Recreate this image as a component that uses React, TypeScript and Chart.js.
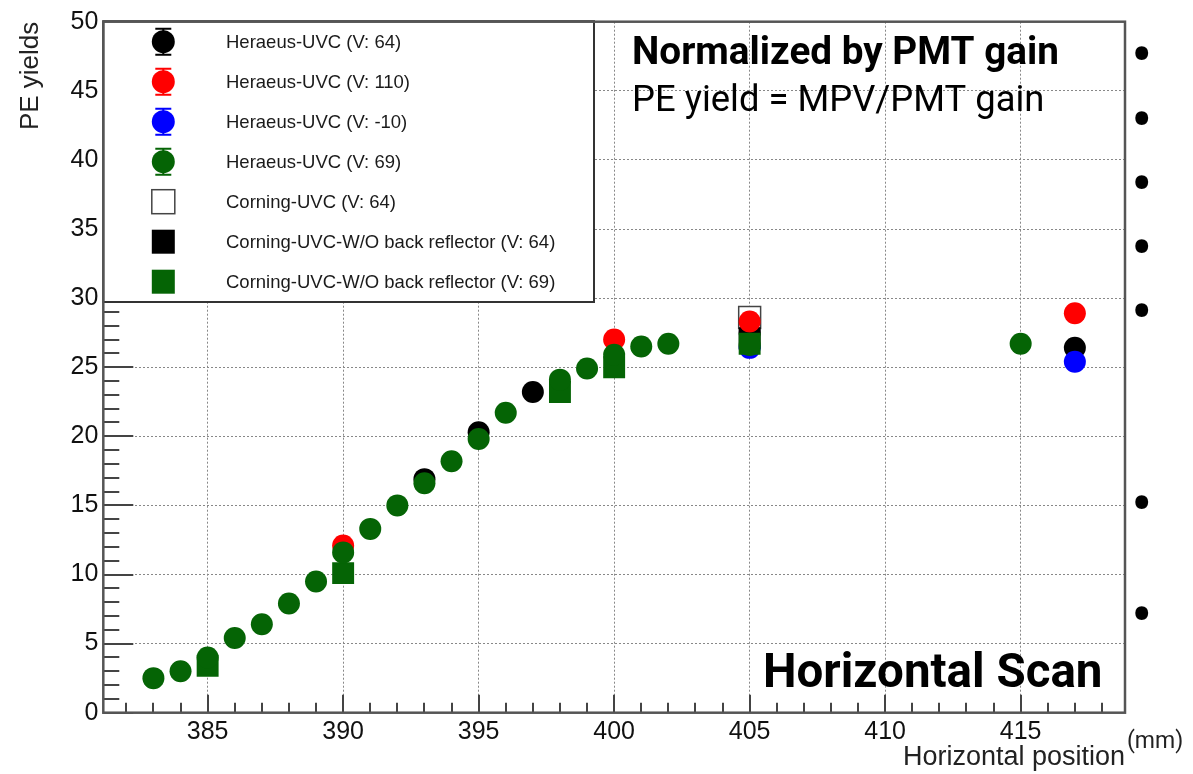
import React, { useEffect, useRef } from "react";
import { Chart, registerables } from "chart.js";

Chart.register(...registerables);

// ---- tick labels ----
const xTickValues = [385, 390, 395, 400, 405, 410, 415];
const yTickValues = [0, 5, 10, 15, 20, 25, 30, 35, 40, 45, 50];

// ---- series values ----
const heraeus64X = [393, 395, 397, 405, 417];
const heraeus64Y = [16.9, 20.3, 23.2, 27.5, 26.4];

const heraeus110X = [390, 400, 405, 417];
const heraeus110Y = [12.1, 27.0, 28.3, 28.9];

const heraeusM10X = [405, 417];
const heraeusM10Y = [26.4, 25.4];

const heraeus69X = [383, 384, 385, 386, 387, 388, 389, 390, 391, 392, 393, 394, 395, 396, 398, 399, 400, 401, 402, 405, 415];
const heraeus69Y = [2.5, 3.0, 4.0, 5.4, 6.4, 7.9, 9.5, 11.6, 13.3, 15.0, 16.6, 18.2, 19.8, 21.7, 24.1, 24.9, 25.9, 26.5, 26.7, 26.6, 26.7];

const corning64X = [405];
const corning64Y = [28.6];

const corningNoRefl64X = [405];
const corningNoRefl64Y = [27.1];

const corningNoRefl69X = [385, 390, 398, 400, 405];
const corningNoRefl69Y = [3.4, 10.1, 23.2, 25.0, 26.7];

const seriesLabels = [
  "Heraeus-UVC (V: 64)",
  "Heraeus-UVC (V: 110)",
  "Heraeus-UVC (V: -10)",
  "Heraeus-UVC (V: 69)",
  "Corning-UVC (V: 64)",
  "Corning-UVC-W/O back reflector (V: 64)",
  "Corning-UVC-W/O back reflector (V: 69)",
];

const xTitle = "Horizontal position";
const xUnit = "(mm)";
const yTitle = "PE yields";
const noteTitle = "Normalized by PMT gain";
const noteFormula = "PE yield = MPV/PMT gain";
const scanLabel = "Horizontal Scan";

const GREEN = "#056405";

type Series = {
  label: string;
  xs: number[];
  ys: number[];
  color: string;
  fill: string;
  style: "circle" | "rect";
  order: number;
};

const series: Series[] = [
  { label: seriesLabels[0], xs: heraeus64X, ys: heraeus64Y, color: "#000000", fill: "#000000", style: "circle", order: 6 },
  { label: seriesLabels[1], xs: heraeus110X, ys: heraeus110Y, color: "#ff0000", fill: "#ff0000", style: "circle", order: 4 },
  { label: seriesLabels[2], xs: heraeusM10X, ys: heraeusM10Y, color: "#0000ff", fill: "#0000ff", style: "circle", order: 3 },
  { label: seriesLabels[3], xs: heraeus69X, ys: heraeus69Y, color: GREEN, fill: GREEN, style: "circle", order: 1 },
  { label: seriesLabels[4], xs: corning64X, ys: corning64Y, color: "#444444", fill: "#ffffff", style: "rect", order: 7 },
  { label: seriesLabels[5], xs: corningNoRefl64X, ys: corningNoRefl64Y, color: "#000000", fill: "#000000", style: "rect", order: 5 },
  { label: seriesLabels[6], xs: corningNoRefl69X, ys: corningNoRefl69Y, color: GREEN, fill: GREEN, style: "rect", order: 2 },
];

const rootStylePlugin = {
  id: "rootStyle",
  beforeDatasetsDraw(chart: any) {
    const { ctx, chartArea: a, scales } = chart;
    const x = scales.x;
    const y = scales.y;
    ctx.save();
    ctx.strokeStyle = "#444";
    ctx.lineWidth = 2;
    ctx.beginPath();
    for (let v = y.min; v <= y.max; v += 1) {
      const py = Math.round(y.getPixelForValue(v));
      const len = v % 5 === 0 ? 30 : 16;
      ctx.moveTo(a.left, py);
      ctx.lineTo(a.left + len, py);
    }
    for (let v = Math.ceil(x.min); v <= Math.floor(x.max); v += 1) {
      const px = Math.round(x.getPixelForValue(v));
      const len = v % 5 === 0 ? 18 : 10;
      ctx.moveTo(px, a.bottom);
      ctx.lineTo(px, a.bottom - len);
    }
    ctx.stroke();
    ctx.restore();
  },
  afterDatasetsDraw(chart: any) {
    const { ctx, chartArea: a } = chart;
    ctx.save();

    // legend box
    const lx0 = a.left;
    const ly0 = a.top - 0.5;
    const lx1 = 594;
    const ly1 = 302;
    ctx.fillStyle = "#ffffff";
    ctx.fillRect(lx0, ly0, lx1 - lx0, ly1 - ly0);
    ctx.strokeStyle = "#333";
    ctx.lineWidth = 2;
    ctx.strokeRect(lx0, ly0, lx1 - lx0, ly1 - ly0);

    series.forEach((s, i) => {
      const cy = 41.7 + 40 * i;
      const cx = 163.3;
      if (s.style === "circle") {
        ctx.strokeStyle = s.color;
        ctx.lineWidth = 2;
        ctx.beginPath();
        ctx.moveTo(cx, cy - 13);
        ctx.lineTo(cx, cy + 13);
        ctx.moveTo(cx - 8, cy - 13);
        ctx.lineTo(cx + 8, cy - 13);
        ctx.moveTo(cx - 8, cy + 13);
        ctx.lineTo(cx + 8, cy + 13);
        ctx.stroke();
        ctx.fillStyle = s.fill;
        ctx.beginPath();
        ctx.arc(cx, cy, 11.5, 0, Math.PI * 2);
        ctx.fill();
      } else {
        ctx.fillStyle = s.fill;
        ctx.fillRect(cx - 11.5, cy - 12, 23, 24);
        if (s.fill === "#ffffff") {
          ctx.strokeStyle = s.color;
          ctx.lineWidth = 1.5;
          ctx.strokeRect(cx - 11.5, cy - 12, 23, 24);
        }
      }
      ctx.fillStyle = "#1a1a1a";
      ctx.font = '18.5px "Liberation Sans"';
      ctx.textAlign = "left";
      ctx.textBaseline = "middle";
      ctx.fillText(s.label, 226, cy + 1);
    });

    // frame
    ctx.strokeStyle = "#555";
    ctx.lineWidth = 2.5;
    ctx.strokeRect(a.left, a.top, a.right - a.left, a.bottom - a.top);

    // annotations
    ctx.fillStyle = "#000";
    ctx.textAlign = "left";
    ctx.textBaseline = "alphabetic";
    ctx.font = "bold 38.7px Roboto";
    ctx.fillText(noteTitle, 632, 63.5);
    ctx.font = "36.4px Roboto";
    ctx.fillText(noteFormula, 632, 110.7);
    ctx.font = "bold 47.5px Roboto";
    ctx.fillText(scanLabel, 763, 686.7);
    ctx.fillStyle = "#222";
    ctx.font = "23px Roboto";
    ctx.fillText(xUnit, 1127, 748);

    // bullets
    ctx.fillStyle = "#000";
    ctx.font = "64px Roboto";
    ctx.textAlign = "center";
    ctx.textBaseline = "middle";
    [53.3, 118.3, 181.7, 246, 310, 501.7, 613.3].forEach((by) => {
      ctx.fillText("\u2022", 1141.7, by + 8);
    });

    ctx.restore();
  },
};

export default function App() {
  const canvasRef = useRef<HTMLCanvasElement | null>(null);

  useEffect(() => {
    document.body.style.margin = "0";
    const canvas = canvasRef.current;
    if (!canvas) return;

    const tickFont = { family: "Liberation Sans", size: 25 };

    const chart = new Chart(canvas, {
      type: "scatter",
      data: {
        datasets: series.map((s) => ({
          label: s.label,
          data: s.xs.map((xv, i) => ({ x: xv, y: s.ys[i] })),
          pointStyle: s.style,
          pointRadius: s.style === "rect" ? 15.5 : 11,
          pointHoverRadius: s.style === "rect" ? 15.5 : 11,
          backgroundColor: s.fill,
          borderColor: s.color,
          borderWidth: s.fill === "#ffffff" ? 1.5 : 0,
          showLine: false,
          order: s.order,
        })),
      },
      options: {
        responsive: false,
        animation: false,
        devicePixelRatio: 1,
        layout: { padding: { top: 21.7, right: 68, left: 0, bottom: 0 } },
        plugins: {
          legend: { display: false },
          tooltip: { enabled: false },
        },
        scales: {
          x: {
            type: "linear",
            position: "bottom",
            min: 381.15,
            max: 418.85,
            afterBuildTicks: (scale: any) => {
              scale.ticks = xTickValues.map((v) => ({ value: v }));
            },
            afterFit: (scale: any) => {
              scale.height = 61.3;
            },
            grid: { color: "#888", lineWidth: 1, drawTicks: false },
            border: { display: false, dash: [2, 2] },
            ticks: { font: tickFont, color: "#111", padding: 4, maxRotation: 0, autoSkip: false },
            title: {
              display: true,
              text: xTitle,
              align: "end",
              color: "#222",
              font: { family: "Liberation Sans", size: 27 },
              padding: { top: 0, bottom: 0 },
            },
          },
          y: {
            type: "linear",
            min: 0,
            max: 50,
            afterBuildTicks: (scale: any) => {
              scale.ticks = yTickValues.map((v) => ({ value: v }));
            },
            afterFit: (scale: any) => {
              scale.width = 103.3;
            },
            grid: { color: "#888", lineWidth: 1, drawTicks: false },
            border: { display: false, dash: [2, 2] },
            ticks: { font: tickFont, color: "#111", padding: 5 },
            title: {
              display: true,
              text: yTitle,
              align: "end",
              color: "#222",
              font: { family: "Liberation Sans", size: 26 },
              padding: { top: 15, bottom: 0 },
            },
          },
        },
      },
      plugins: [rootStylePlugin],
    } as any);

    return () => chart.destroy();
  }, []);

  return (
    <div style={{ position: "fixed", left: 0, top: 0, width: 1193, height: 774, background: "#fff" }}>
      <canvas ref={canvasRef} width={1193} height={774} style={{ width: 1193, height: 774, display: "block" }} />
    </div>
  );
}
